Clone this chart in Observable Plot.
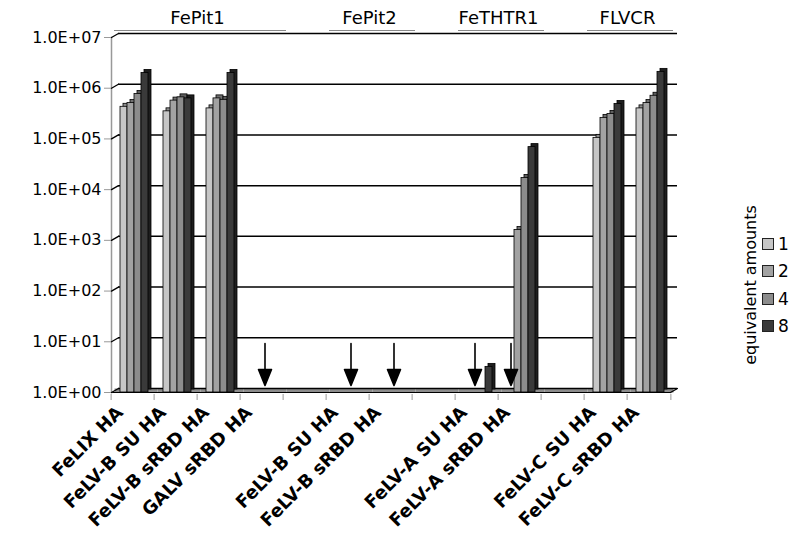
<!DOCTYPE html>
<html><head><meta charset="utf-8">
<script src="https://cdn.jsdelivr.net/npm/d3@7"></script>
<script src="https://cdn.jsdelivr.net/npm/@observablehq/plot@0.6"></script>
<style>
body{margin:0;background:#fff;font-family:"DejaVu Sans",Verdana,sans-serif}
#wrap{position:relative;width:800px;height:542px;overflow:hidden}
.sw{position:absolute;width:10px;height:10px;border:1px solid #222}
.lb{position:absolute;font-size:17px;line-height:20px;color:#000}
#ttl{position:absolute;font-size:16px;white-space:nowrap;transform:translate(-50%,-50%) rotate(-90deg);color:#000}
</style></head><body><div id="wrap"></div>
<script>
// ---- data ----
const receptors = ["FePit1","FePit1","FePit1","FePit1","","FePit2","FePit2","","FeTHTR1","FeTHTR1","","FLVCR","FLVCR"];
const envelopes = ["FeLIX HA","FeLV-B SU HA","FeLV-B sRBD HA","GALV sRBD HA","","FeLV-B SU HA","FeLV-B sRBD HA","","FeLV-A SU HA","FeLV-A sRBD HA","","FeLV-C SU HA","FeLV-C sRBD HA"];
const amounts = [1, 2, 4, 8];
const binding1 = [4.3e5, 3.5e5, 4.0e5, 1, null, 1, 1, null, 1, 1,     null, 1.05e5, 4.0e5];
const binding2 = [5.1e5, 5.7e5, 6.3e5, 1, null, 1, 1, null, 1, 1.6e3, null, 2.6e5, 5.1e5];
const binding4 = [7.7e5, 6.6e5, 5.9e5, 1, null, 1, 1, null, 1, 1.7e4, null, 3.1e5, 7.1e5];
const binding8 = [2.0e6, 6.3e5, 2.0e6, 1, null, 1, 1, null, 3.2, 6.9e4, null, 4.9e5, 2.1e6];
const yTicks = [1, 10, 100, 1e3, 1e4, 1e5, 1e6, 1e7];
const yTickLabels = ["1.0E+00","1.0E+01","1.0E+02","1.0E+03","1.0E+04","1.0E+05","1.0E+06","1.0E+07"];
const arrowGroups = [3, 5, 6];                                   // slots where all amounts are undetected
const arrowBars = [{slot: 8, amount: 2}, {slot: 9, amount: 1}];  // undetected bars in partly positive slots
const legendTitle = "equivalent amounts";

const frontColors = ["#c6c6c6", "#a2a2a2", "#8c8c8c", "#3a3a3a"];
const sideColors  = ["#8e8e8e", "#707070", "#5e5e5e", "#1e1e1e"];

// ---- table ----
const series = [binding1, binding2, binding4, binding8];
const slots = d3.range(envelopes.length);
const rows = [];
amounts.forEach((a, j) => series[j].forEach((v, i) => { if (v != null) rows.push({slot: i, amount: a, value: v}); }));
const groupNames = Array.from(new Set(receptors.filter(r => r)));
const groupLabels = groupNames.map(name => {
  const idx = slots.filter(i => receptors[i] === name);
  return {name, slot: (idx[0] + idx[idx.length - 1] + 1) / 2};
});
const groupSlots = slots.filter(i => receptors[i]);

const lineShape = {draw(ctx, l) { ctx.moveTo(0, 0); ctx.lineTo(0, -l); }};
const arrowShape = {draw(ctx, l) {
  const h = 16, w = 6.5;
  ctx.moveTo(0, 0); ctx.lineTo(0, -l + h);
  ctx.moveTo(-w, -l + h); ctx.lineTo(w, -l + h); ctx.lineTo(0, -l); ctx.closePath();
}};
const step = (800 - 106 - 125) / slots.length;

const marks = [
  Plot.ruleY(slots, {fx: d => d, y: () => 1, stroke: "#8c8c8c", strokeWidth: 4, dx: 3.5, dy: -2}),
  Plot.ruleY(slots, {fx: d => d, y: () => 1, stroke: "#000", strokeWidth: 1.2}),
  Plot.ruleY(yTicks, {dx: 7, dy: -4, stroke: "#000", strokeWidth: 1.5}),
  Plot.ruleY(groupSlots, {fx: d => d, y: () => 1e7, dx: 3, dy: -7, stroke: "#888", strokeWidth: 1.2}),
  Plot.text(groupLabels, {fx: "slot", text: "name", frameAnchor: "top-left", textAnchor: "middle", lineAnchor: "middle", dy: -19, fontSize: 18, fill: "#000"}),
  Plot.frame({anchor: "left", facetAnchor: "left", stroke: "#999", strokeWidth: 1.5}),
  Plot.vector(yTicks, {y: d => d, frameAnchor: "left", facetAnchor: "left", rotate: 60, length: 8, anchor: "start", shape: lineShape, stroke: "#000", strokeWidth: 1.3}),
  Plot.vector([1], {y: d => d, frameAnchor: "right", facetAnchor: "right", rotate: 60, length: 8, anchor: "start", shape: lineShape, stroke: "#000", strokeWidth: 1.3}),
  ...amounts.map((a, j) => Plot.barY(rows, {filter: d => d.amount === a, fx: "slot", x: "amount", y1: 1, y2: "value", fill: sideColors[j], stroke: "#000", strokeWidth: 0.8, dx: 3, dy: -3})),
  Plot.barY(rows, {fx: "slot", x: "amount", y1: 1, y2: "value", fill: "amount", stroke: "#000", strokeWidth: 0.8}),
  Plot.vector(arrowGroups, {fx: d => d, y: () => 1, frameAnchor: "bottom", dx: 3, dy: -7, rotate: 180, length: 42, anchor: "end", shape: arrowShape, stroke: "#000", fill: "#000", strokeWidth: 1.6}),
  Plot.vector(arrowBars, {fx: "slot", x: "amount", y: () => 1, dy: -7, rotate: 180, length: 42, anchor: "end", shape: arrowShape, stroke: "#000", fill: "#000", strokeWidth: 1.6}),
  Plot.axisY({ticks: yTicks, tickFormat: d => yTickLabels[yTicks.indexOf(d)], tickSize: 7, tickPadding: 3, fontSize: 16, stroke: "#999", color: "#000", label: null}),
  Plot.axisFx({anchor: "bottom", tickRotate: -45, tickSize: 0, tickPadding: 17, fontSize: 18, fontWeight: "bold", tickFormat: i => envelopes[i], color: "#000", label: null, dx: -13}),
  Plot.axisFx({anchor: "bottom", tickSize: 6, tickPadding: 0, tickFormat: () => "", dx: -step / 2, dy: 2, stroke: "#999", label: null}),
  Plot.axisFx({anchor: "bottom", ticks: [slots.length - 1], tickSize: 6, tickPadding: 0, tickFormat: () => "", dx: step / 2, dy: 2, stroke: "#999", label: null})
];

const chart = Plot.plot({
  width: 800, height: 542,
  marginTop: 37, marginBottom: 150, marginLeft: 106, marginRight: 125,
  fx: {domain: slots, padding: 0, label: null},
  x: {domain: amounts, padding: 0, insetLeft: 8, insetRight: 5, axis: null},
  y: {type: "log", domain: [1, 1e7], label: null},
  color: {domain: amounts, range: frontColors},
  style: {fontFamily: "'DejaVu Sans', Verdana, sans-serif", background: "#fff", color: "#000", overflow: "visible"},
  marks
});
const wrap = document.getElementById("wrap");
wrap.appendChild(chart);

// ---- legend ----
const ttl = document.createElement("div");
ttl.id = "ttl"; ttl.textContent = legendTitle;
ttl.style.left = "750px"; ttl.style.top = "285px";
wrap.appendChild(ttl);
amounts.forEach((a, j) => {
  const top = 238 + j * 27.3;
  const sw = document.createElement("div");
  sw.className = "sw"; sw.style.left = "762px"; sw.style.top = top + "px"; sw.style.background = frontColors[j];
  wrap.appendChild(sw);
  const lb = document.createElement("div");
  lb.className = "lb"; lb.textContent = String(a); lb.style.left = "778px"; lb.style.top = (top - 4) + "px";
  wrap.appendChild(lb);
});
</script></body></html>
